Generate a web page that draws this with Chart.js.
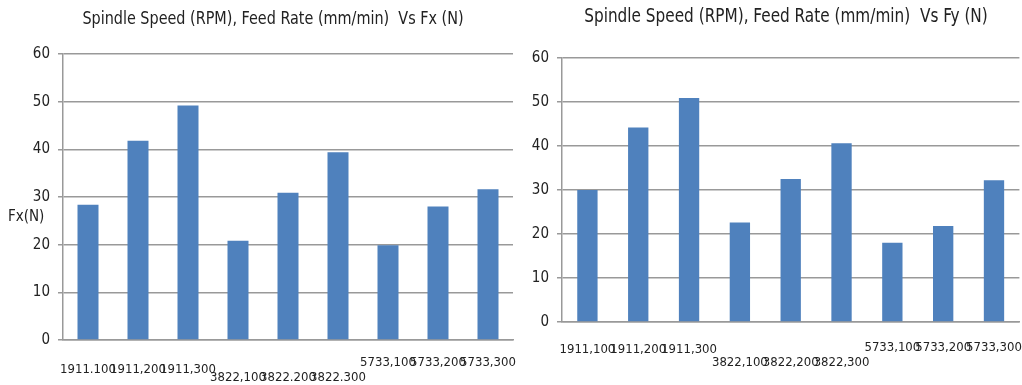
<!DOCTYPE html>
<html>
<head>
<meta charset="utf-8">
<script src="https://cdn.jsdelivr.net/npm/chart.js@4.4.0/dist/chart.umd.min.js"></script>
<style>
  html, body { margin: 0; padding: 0; background: #fff; overflow: hidden; }
  #wrap { position: relative; width: 1022px; height: 385px; }
  #boxFx { position: absolute; left: 0; top: 0; width: 520px; height: 385px; }
  #boxFy { position: absolute; left: 515px; top: 0; width: 507px; height: 385px; }
  .txt {
    position: absolute; white-space: pre; color: #222;
    font-family: 'Liberation Sans Narrow', 'DejaVu Sans Condensed', sans-serif;
  }
  .titulo { transform: translateX(-50%) scaleY(1.15); line-height: 20px; }
  #tituloFx { left: 273px; top: 8px; font-size: 16px; }
  #tituloFy { left: 786px; top: 5px; font-size: 17px; }
  #fxLabel { left: 8px; top: 207px; font-size: 15px; }
</style>
</head>
<body>
<div id="wrap">
  <div id="boxFx"><canvas id="chartFx"></canvas></div>
  <div id="boxFy"><canvas id="chartFy"></canvas></div>
  <span class="txt titulo" id="tituloFx">Spindle Speed (RPM), Feed Rate (mm/min)  Vs Fx (N)</span>
  <span class="txt titulo" id="tituloFy">Spindle Speed (RPM), Feed Rate (mm/min)  Vs Fy (N)</span>
  <span class="txt" id="fxLabel">Fx(N)</span>
</div>
<script>
// Datos
var categoriasFx = ['1911.100', '1911,200', '1911,300', '3822,100', '3822.200', '3822.300', '5733,100', '5733,200', '5733,300'];
var categoriasFy = ['1911,100', '1911,200', '1911,300', '3822,100', '3822,200', '3822,300', '5733,100', '5733,200', '5733,300'];
var valoresFx = [28.4, 41.8, 49.2, 20.8, 30.9, 39.4, 19.9, 28.0, 31.6];
var valoresFy = [30.0, 44.2, 50.9, 22.6, 32.5, 40.6, 18.0, 21.8, 32.2];
var ticksY = [0, 10, 20, 30, 40, 50, 60];

var FUENTE = "'Liberation Sans Narrow', 'DejaVu Sans Condensed', sans-serif";
var AZUL = '#4F81BD';
var GRIS = '#999999';

// desplazamiento vertical de las etiquetas del eje x (escalonadas como en Excel)
var desplFx = [30, 30, 30, 38, 38, 38, 23, 23, 23];
var desplFy = [28, 28, 28, 41, 41, 41, 26, 26, 26];

function crearGrafico(id, categorias, valores, opts) {
    var ctx = document.getElementById(id).getContext('2d');
    return new Chart(ctx, {
        type: 'bar',
        data: {
            labels: categorias,
            datasets: [{
                data: valores,
                backgroundColor: AZUL,
                borderWidth: 0,
                barPercentage: opts.barPct,
                categoryPercentage: 1
            }]
        },
        options: {
            responsive: true,
            maintainAspectRatio: false,
            animation: false,
            layout: { padding: { left: 0, right: opts.padRight, top: opts.padTop, bottom: 0 } },
            plugins: {
                legend: { display: false },
                tooltip: { enabled: false }
            },
            scales: {
                x: {
                    grid: { display: false, drawTicks: false },
                    border: { display: true, color: GRIS, width: 1.5 },
                    ticks: {
                        autoSkip: false,
                        maxRotation: 0,
                        minRotation: 0,
                        padding: 0,
                        color: '#222',
                        font: function (c) {
                            return { family: FUENTE, size: 13, lineHeight: (opts.despl[c.index] * 2) + 'px' };
                        }
                    },
                    afterFit: function (s) { s.height = opts.xHeight; }
                },
                y: {
                    min: 0,
                    max: 60,
                    afterBuildTicks: function (s) { s.ticks = ticksY.map(function (v) { return { value: v }; }); },
                    grid: { color: GRIS, lineWidth: 1.5, drawTicks: true, tickLength: 5 },
                    border: { display: true, color: GRIS, width: 1.5 },
                    ticks: {
                        padding: 8,
                        color: '#222',
                        font: { family: FUENTE, size: 15 }
                    },
                    afterFit: function (s) { s.width = opts.yWidth; }
                }
            }
        }
    });
}

crearGrafico('chartFx', categoriasFx, valoresFx, {
    barPct: 0.42, padRight: 7, padTop: 54, xHeight: 45, yWidth: 63, despl: desplFx
});

crearGrafico('chartFy', categoriasFy, valoresFy, {
    barPct: 0.40, padRight: 2, padTop: 58, xHeight: 63, yWidth: 47, despl: desplFy
});
</script>
</body>
</html>
